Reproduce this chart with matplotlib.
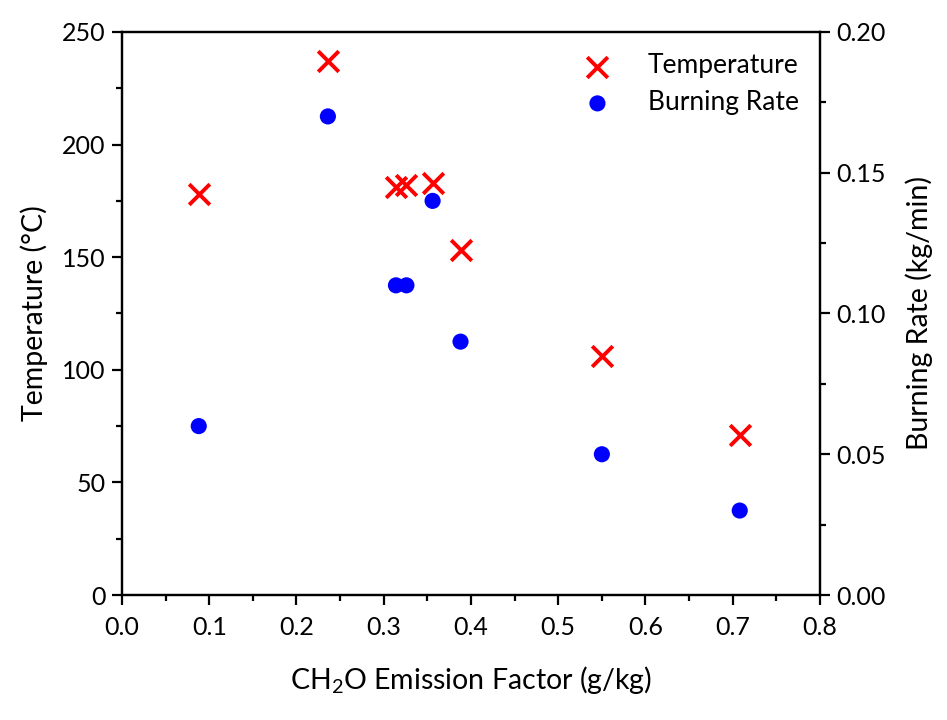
import matplotlib
matplotlib.use("Agg")
import matplotlib.pyplot as plt
from matplotlib.ticker import MultipleLocator, FormatStrFormatter

plt.rcParams['font.family'] = ['Lato', 'DejaVu Sans']
plt.rcParams['mathtext.fontset'] = 'custom'
plt.rcParams['mathtext.rm'] = 'Lato'
plt.rcParams['mathtext.default'] = 'rm'

# data
emission = [0.088, 0.236, 0.314, 0.326, 0.356, 0.388, 0.550, 0.708]
temperature = [178, 237, 181, 182, 183, 153, 106, 71]
burning_rate = [0.060, 0.170, 0.110, 0.110, 0.140, 0.090, 0.050, 0.030]

fig = plt.figure(figsize=(9.47, 7.2), dpi=100)
ax = fig.add_axes([0.1288, 0.1736, 0.7371, 0.7820])
ax2 = ax.twinx()

t = ax.scatter(emission, temperature, marker='x', s=220, c='red', linewidths=2.8, label='Temperature', zorder=3)
b = ax2.scatter(emission, burning_rate, marker='o', s=135, c='blue', edgecolors='none', label='Burning Rate', zorder=3)

ax.set_xlim(0, 0.8)
ax.set_ylim(0, 250)
ax2.set_ylim(0, 0.20)

ax.xaxis.set_major_locator(MultipleLocator(0.1))
ax.xaxis.set_minor_locator(MultipleLocator(0.05))
ax.xaxis.set_major_formatter(FormatStrFormatter('%.1f'))
ax.yaxis.set_major_locator(MultipleLocator(50))
ax.yaxis.set_minor_locator(MultipleLocator(25))
ax2.yaxis.set_major_locator(MultipleLocator(0.05))
ax2.yaxis.set_minor_locator(MultipleLocator(0.025))
ax2.yaxis.set_major_formatter(FormatStrFormatter('%.2f'))

for a in (ax, ax2):
    for s in a.spines.values():
        s.set_linewidth(1.6)
    a.tick_params(which='major', direction='out', length=7, width=1.6, labelsize=18, pad=5)
    a.tick_params(which='minor', direction='out', length=4, width=1.6)
ax.tick_params(axis='x', pad=8)
ax.tick_params(axis='y', which='both', right=False)

ax.set_xlabel('CH$_2$O Emission Factor (g/kg)', fontsize=20.5, labelpad=18)
ax.set_ylabel('Temperature (°C)', fontsize=20.5, labelpad=10)
ax2.set_ylabel('Burning Rate (kg/min)', fontsize=20.5, labelpad=14)

ax.legend(handles=[t, b], loc='upper right', frameon=False, fontsize=19,
          handletextpad=0.9, borderaxespad=0.2, labelspacing=0.45,
          bbox_to_anchor=(0.992, 0.99))

fig.savefig('out.png', dpi=100)
